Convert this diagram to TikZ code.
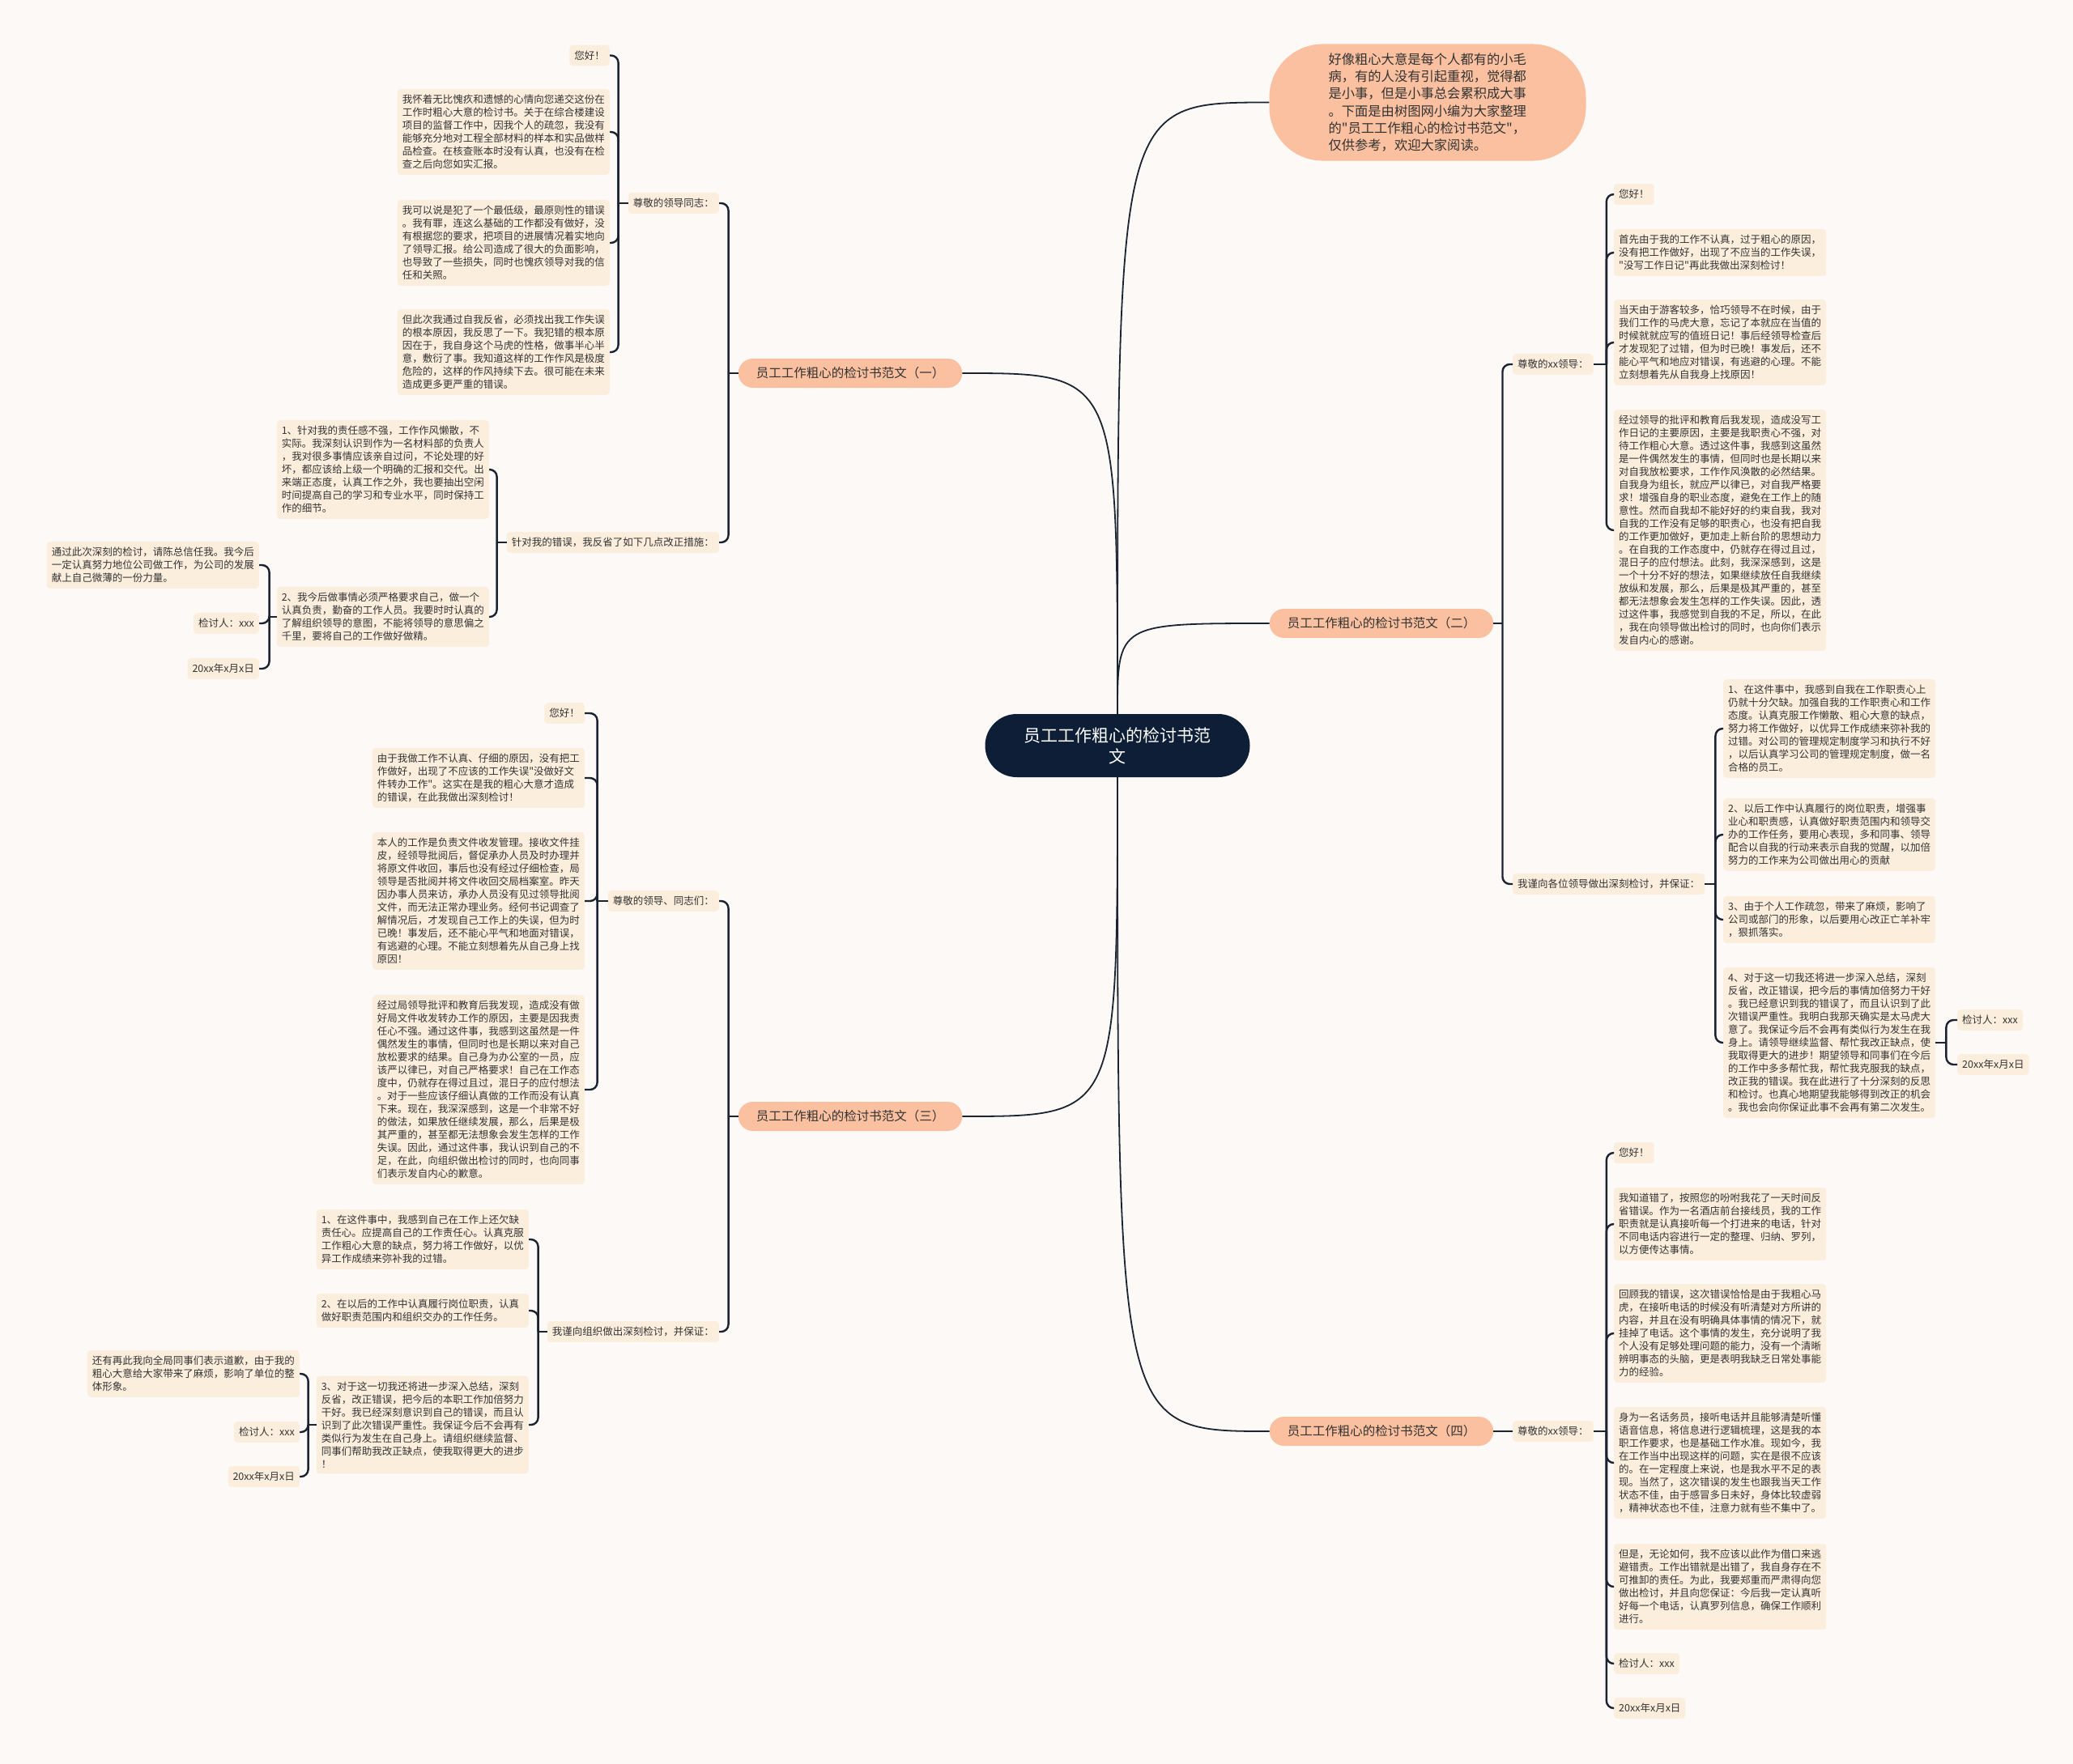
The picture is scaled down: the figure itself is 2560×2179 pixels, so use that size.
\documentclass[tikz,border=0pt]{standalone}
\usepackage{fontspec}
\setmainfont{Noto Sans CJK SC}[Ligatures=TeXOff]
\usepackage{tikz}
\usetikzlibrary{positioning}
\definecolor{mmback}{HTML}{FCF9F7}
\definecolor{mmnavy}{HTML}{0E1E36}
\definecolor{mmsalmon}{HTML}{FBC09F}
\definecolor{mmleaf}{HTML}{FCEEDD}
\definecolor{mmline}{HTML}{1B2230}
\definecolor{mmtext}{HTML}{333333}

\begin{document}
\begin{tikzpicture}[x=1pt,y=-1pt,
  root/.style={fill=mmnavy,text=white,rounded corners=39pt,minimum height=78pt,inner xsep=48pt,font=\fontsize{21}{26}\selectfont,align=center},
  intro/.style={fill=mmsalmon,text=mmtext,rounded corners=66pt,text width=245pt,inner xsep=73pt,inner ysep=11pt,font=\fontsize{16.3}{21.3}\selectfont,align=left},
  branch/.style={fill=mmsalmon,text=mmtext,rounded corners=18pt,minimum height=36pt,inner xsep=22pt,font=\fontsize{15.5}{18}\selectfont},
  topic/.style={fill=mmleaf,text=mmtext,rounded corners=4pt,inner xsep=6pt,inner ysep=7pt,font=\fontsize{12.5}{16}\selectfont},
  leaf/.style={topic,text width=250pt,align=left},
  curve/.style={draw=mmline,line width=1.8pt},
  link/.style={draw=mmline,line width=2.4pt,rounded corners=9pt}
]
\fill[mmback] (0,0) rectangle (2560,2179);
\useasboundingbox (0,0) rectangle (2560,2179);

\node[root] (root) at (1380,921) {员工工作粗心的检讨书范\\文};
\node[intro] (intro) at (1763,126.5) {好像粗心大意是每个人都有的小毛\\病，有的人没有引起重视，觉得都\\是小事，但是小事总会累积成大事\\。下面是由树图网小编为大家整理\\的"员工工作粗心的检讨书范文"，\\仅供参考，欢迎大家阅读。};
\node[branch] (br1) at (1050,461) {员工工作粗心的检讨书范文（一）};
\node[branch] (br2) at (1706,770) {员工工作粗心的检讨书范文（二）};
\node[branch] (br3) at (1050,1379) {员工工作粗心的检讨书范文（三）};
\node[branch] (br4) at (1706,1768) {员工工作粗心的检讨书范文（四）};

\draw[curve] (root.north) .. controls (root.north |- intro.west) .. (intro.west);
\draw[curve] (root.north) .. controls (root.north |- br1.east) .. (br1.east);
\draw[curve] (root.north) .. controls (root.north |- br2.west) .. (br2.west);
\draw[curve] (root.south) .. controls (root.south |- br3.east) .. (br3.east);
\draw[curve] (root.south) .. controls (root.south |- br4.west) .. (br4.west);

% (一)
\node[topic,anchor=east] (t1a) at (888,251) {尊敬的领导同志：};
\node[topic,anchor=east] (t1b) at (888,670) {针对我的错误，我反省了如下几点改正措施：};
\node[topic,anchor=east] (a1) at (753,68.5) {您好！};
\node[leaf,anchor=east] (a2) at (753,163) {我怀着无比愧疚和遗憾的心情向您递交这份在\\工作时粗心大意的检讨书。关于在综合楼建设\\项目的监督工作中，因我个人的疏忽，我没有\\能够充分地对工程全部材料的样本和实品做样\\品检查。在核查账本时没有认真，也没有在检\\查之后向您如实汇报。};
\node[leaf,anchor=east] (a3) at (753,300) {我可以说是犯了一个最低级，最原则性的错误\\。我有罪，连这么基础的工作都没有做好，没\\有根据您的要求，把项目的进展情况着实地向\\了领导汇报。给公司造成了很大的负面影响，\\也导致了一些损失，同时也愧疚领导对我的信\\任和关照。};
\node[leaf,anchor=east] (a4) at (753,435) {但此次我通过自我反省，必须找出我工作失误\\的根本原因，我反思了一下。我犯错的根本原\\因在于，我自身这个马虎的性格，做事半心半\\意，敷衍了事。我知道这样的工作作风是极度\\危险的，这样的作风持续下去。很可能在未来\\造成更多更严重的错误。};
\node[leaf,anchor=east] (b1) at (604,580) {1、针对我的责任感不强，工作作风懒散，不\\实际。我深刻认识到作为一名材料部的负责人\\，我对很多事情应该亲自过问，不论处理的好\\坏，都应该给上级一个明确的汇报和交代。出\\来端正态度，认真工作之外，我也要抽出空闲\\时间提高自己的学习和专业水平，同时保持工\\作的细节。};
\node[leaf,anchor=east] (b2) at (604,762) {2、我今后做事情必须严格要求自己，做一个\\认真负责，勤奋的工作人员。我要时时认真的\\了解组织领导的意图，不能将领导的意思偏之\\千里，要将自己的工作做好做精。};
\node[leaf,anchor=east] (b2a) at (320,698) {通过此次深刻的检讨，请陈总信任我。我今后\\一定认真努力地位公司做工作，为公司的发展\\献上自己微薄的一份力量。};
\node[topic,anchor=east] (b2b) at (320,770) {检讨人：xxx};
\node[topic,anchor=east] (b2c) at (320,826) {20xx年x月x日};

\coordinate (j1) at ([xshift=-12pt]br1.west);
\draw[link] (br1.west) -- (j1);
\foreach \c in {t1a,t1b} \draw[link] (j1) |- (\c.east);
\coordinate (j1a) at ([xshift=-12pt]t1a.west);
\draw[link] (t1a.west) -- (j1a);
\foreach \c in {a1,a2,a3,a4} \draw[link] (j1a) |- (\c.east);
\coordinate (j1b) at ([xshift=-12pt]t1b.west);
\draw[link] (t1b.west) -- (j1b);
\foreach \c in {b1,b2} \draw[link] (j1b) |- (\c.east);
\coordinate (jb2) at ([xshift=-9pt]b2.west);
\draw[link] (b2.west) -- (jb2);
\foreach \c in {b2a,b2b,b2c} \draw[link] (jb2) |- (\c.east);

% (三)
\node[topic,anchor=east] (t3a) at (888,1113) {尊敬的领导、同志们：};
\node[topic,anchor=east] (t3b) at (888,1645) {我谨向组织做出深刻检讨，并保证：};
\node[topic,anchor=east] (c1) at (722,881) {您好！};
\node[leaf,anchor=east] (c2) at (722,961) {由于我做工作不认真、仔细的原因，没有把工\\作做好，出现了不应该的工作失误"没做好文\\件转办工作"。这实在是我的粗心大意才造成\\的错误，在此我做出深刻检讨！};
\node[leaf,anchor=east] (c3) at (722,1113) {本人的工作是负责文件收发管理。接收文件挂\\皮，经领导批阅后，督促承办人员及时办理并\\将原文件收回，事后也没有经过仔细检查，局\\领导是否批阅并将文件收回交局档案室。昨天\\因办事人员来访，承办人员没有见过领导批阅\\文件，而无法正常办理业务。经何书记调查了\\解情况后，才发现自己工作上的失误，但为时\\已晚！事发后，还不能心平气和地面对错误，\\有逃避的心理。不能立刻想着先从自己身上找\\原因！};
\node[leaf,anchor=east] (c4) at (722,1346) {经过局领导批评和教育后我发现，造成没有做\\好局文件收发转办工作的原因，主要是因我责\\任心不强。通过这件事，我感到这虽然是一件\\偶然发生的事情，但同时也是长期以来对自己\\放松要求的结果。自己身为办公室的一员，应\\该严以律已，对自己严格要求！自己在工作态\\度中，仍就存在得过且过，混日子的应付想法\\。对于一些应该仔细认真做的工作而没有认真\\下来。现在，我深深感到，这是一个非常不好\\的做法，如果放任继续发展，那么，后果是极\\其严重的，甚至都无法想象会发生怎样的工作\\失误。因此，通过这件事，我认识到自己的不\\足，在此，向组织做出检讨的同时，也向同事\\们表示发自内心的歉意。};
\node[leaf,anchor=east] (d1) at (653,1531) {1、在这件事中，我感到自己在工作上还欠缺\\责任心。应提高自己的工作责任心。认真克服\\工作粗心大意的缺点，努力将工作做好，以优\\异工作成绩来弥补我的过错。};
\node[leaf,anchor=east] (d2) at (653,1619) {2、在以后的工作中认真履行岗位职责，认真\\做好职责范围内和组织交办的工作任务。};
\node[leaf,anchor=east] (d3) at (653,1760) {3、对于这一切我还将进一步深入总结，深刻\\反省，改正错误，把今后的本职工作加倍努力\\干好。我已经深刻意识到自己的错误，而且认\\识到了此次错误严重性。我保证今后不会再有\\类似行为发生在自己身上。请组织继续监督、\\同事们帮助我改正缺点，使我取得更大的进步\\！};
\node[leaf,anchor=east] (d3a) at (370,1697) {还有再此我向全局同事们表示道歉，由于我的\\粗心大意给大家带来了麻烦，影响了单位的整\\体形象。};
\node[topic,anchor=east] (d3b) at (370,1769) {检讨人：xxx};
\node[topic,anchor=east] (d3c) at (370,1824) {20xx年x月x日};

\coordinate (j3) at ([xshift=-12pt]br3.west);
\draw[link] (br3.west) -- (j3);
\foreach \c in {t3a,t3b} \draw[link] (j3) |- (\c.east);
\coordinate (j3a) at ([xshift=-13pt]t3a.west);
\draw[link] (t3a.west) -- (j3a);
\foreach \c in {c1,c2,c3,c4} \draw[link] (j3a) |- (\c.east);
\coordinate (j3b) at ([xshift=-11pt]t3b.west);
\draw[link] (t3b.west) -- (j3b);
\foreach \c in {d1,d2,d3} \draw[link] (j3b) |- (\c.east);
\coordinate (jd3) at ([xshift=-10pt]d3.west);
\draw[link] (d3.west) -- (jd3);
\foreach \c in {d3a,d3b,d3c} \draw[link] (jd3) |- (\c.east);

% (二)
\node[topic,anchor=west] (t2a) at (1868,450) {尊敬的xx领导：};
\node[topic,anchor=west] (t2b) at (1868,1092) {我谨向各位领导做出深刻检讨，并保证：};
\node[topic,anchor=west] (e1) at (1993,240) {您好！};
\node[leaf,anchor=west] (e2) at (1993,312) {首先由于我的工作不认真，过于粗心的原因，\\没有把工作做好，出现了不应当的工作失误，\\"没写工作日记"再此我做出深刻检讨！};
\node[leaf,anchor=west] (e3) at (1993,423) {当天由于游客较多，恰巧领导不在时候，由于\\我们工作的马虎大意，忘记了本就应在当值的\\时候就就应写的值班日记！事后经领导检查后\\才发现犯了过错，但为时已晚！事发后，还不\\能心平气和地应对错误，有逃避的心理。不能\\立刻想着先从自我身上找原因！};
\node[leaf,anchor=west] (e4) at (1993,655) {经过领导的批评和教育后我发现，造成没写工\\作日记的主要原因，主要是我职责心不强，对\\待工作粗心大意。透过这件事，我感到这虽然\\是一件偶然发生的事情，但同时也是长期以来\\对自我放松要求，工作作风涣散的必然结果。\\自我身为组长，就应严以律已，对自我严格要\\求！增强自身的职业态度，避免在工作上的随\\意性。然而自我却不能好好的约束自我，我对\\自我的工作没有足够的职责心，也没有把自我\\的工作更加做好，更加走上新台阶的思想动力\\。在自我的工作态度中，仍就存在得过且过，\\混日子的应付想法。此刻，我深深感到，这是\\一个十分不好的想法，如果继续放任自我继续\\放纵和发展，那么，后果是极其严重的，甚至\\都无法想象会发生怎样的工作失误。因此，透\\过这件事，我感觉到自我的不足，所以，在此\\，我在向领导做出检讨的同时，也向你们表示\\发自内心的感谢。};
\node[leaf,anchor=west] (f1) at (2128,900) {1、在这件事中，我感到自我在工作职责心上\\仍就十分欠缺。加强自我的工作职责心和工作\\态度。认真克服工作懒散、粗心大意的缺点，\\努力将工作做好，以优异工作成绩来弥补我的\\过错。对公司的管理规定制度学习和执行不好\\，以后认真学习公司的管理规定制度，做一名\\合格的员工。};
\node[leaf,anchor=west] (f2) at (2128,1031) {2、以后工作中认真履行的岗位职责，增强事\\业心和职责感，认真做好职责范围内和领导交\\办的工作任务，要用心表现，多和同事、领导\\配合以自我的行动来表示自我的觉醒，以加倍\\努力的工作来为公司做出用心的贡献};
\node[leaf,anchor=west] (f3) at (2128,1136) {3、由于个人工作疏忽，带来了麻烦，影响了\\公司或部门的形象，以后要用心改正亡羊补牢\\，狠抓落实。};
\node[leaf,anchor=west] (f4) at (2128,1288) {4、对于这一切我还将进一步深入总结，深刻\\反省，改正错误，把今后的事情加倍努力干好\\。我已经意识到我的错误了，而且认识到了此\\次错误严重性。我明白我那天确实是太马虎大\\意了。我保证今后不会再有类似行为发生在我\\身上。请领导继续监督、帮忙我改正缺点，使\\我取得更大的进步！期望领导和同事们在今后\\的工作中多多帮忙我，帮忙我克服我的缺点，\\改正我的错误。我在此进行了十分深刻的反思\\和检讨。也真心地期望我能够得到改正的机会\\。我也会向你保证此事不会再有第二次发生。};
\node[topic,anchor=west] (f4a) at (2417,1260) {检讨人：xxx};
\node[topic,anchor=west] (f4b) at (2417,1315) {20xx年x月x日};

\coordinate (j2) at ([xshift=11pt]br2.east);
\draw[link] (br2.east) -- (j2);
\foreach \c in {t2a,t2b} \draw[link] (j2) |- (\c.west);
\coordinate (j2a) at ([xshift=16pt]t2a.east);
\draw[link] (t2a.east) -- (j2a);
\foreach \c in {e1,e2,e3,e4} \draw[link] (j2a) |- (\c.west);
\coordinate (j2b) at ([xshift=13pt]t2b.east);
\draw[link] (t2b.east) -- (j2b);
\foreach \c in {f1,f2,f3,f4} \draw[link] (j2b) |- (\c.west);
\coordinate (jf4) at ([xshift=13pt]f4.east);
\draw[link] (f4.east) -- (jf4);
\foreach \c in {f4a,f4b} \draw[link] (jf4) |- (\c.west);

% (四)
\node[topic,anchor=west] (t4a) at (1868,1768) {尊敬的xx领导：};
\node[topic,anchor=west] (g1) at (1993,1424) {您好！};
\node[leaf,anchor=west] (g2) at (1993,1512) {我知道错了，按照您的吩咐我花了一天时间反\\省错误。作为一名酒店前台接线员，我的工作\\职责就是认真接听每一个打进来的电话，针对\\不同电话内容进行一定的整理、归纳、罗列，\\以方便传达事情。};
\node[leaf,anchor=west] (g3) at (1993,1647) {回顾我的错误，这次错误恰恰是由于我粗心马\\虎，在接听电话的时候没有听清楚对方所讲的\\内容，并且在没有明确具体事情的情况下，就\\挂掉了电话。这个事情的发生，充分说明了我\\个人没有足够处理问题的能力，没有一个清晰\\辨明事态的头脑，更是表明我缺乏日常处事能\\力的经验。};
\node[leaf,anchor=west] (g4) at (1993,1807) {身为一名话务员，接听电话并且能够清楚听懂\\语音信息，将信息进行逻辑梳理，这是我的本\\职工作要求，也是基础工作水准。现如今，我\\在工作当中出现这样的问题，实在是很不应该\\的。在一定程度上来说，也是我水平不足的表\\现。当然了，这次错误的发生也跟我当天工作\\状态不佳，由于感冒多日未好，身体比较虚弱\\，精神状态也不佳，注意力就有些不集中了。};
\node[leaf,anchor=west] (g5) at (1993,1960) {但是，无论如何，我不应该以此作为借口来逃\\避错责。工作出错就是出错了，我自身存在不\\可推卸的责任。为此，我要郑重而严肃得向您\\做出检讨，并且向您保证：今后我一定认真听\\好每一个电话，认真罗列信息，确保工作顺利\\进行。};
\node[topic,anchor=west] (g6) at (1993,2055) {检讨人：xxx};
\node[topic,anchor=west] (g7) at (1993,2110) {20xx年x月x日};

\draw[link] (br4.east) -- (t4a.west);
\coordinate (j4a) at ([xshift=16pt]t4a.east);
\draw[link] (t4a.east) -- (j4a);
\foreach \c in {g1,g2,g3,g4,g5,g6,g7} \draw[link] (j4a) |- (\c.west);
\end{tikzpicture}
\end{document}
